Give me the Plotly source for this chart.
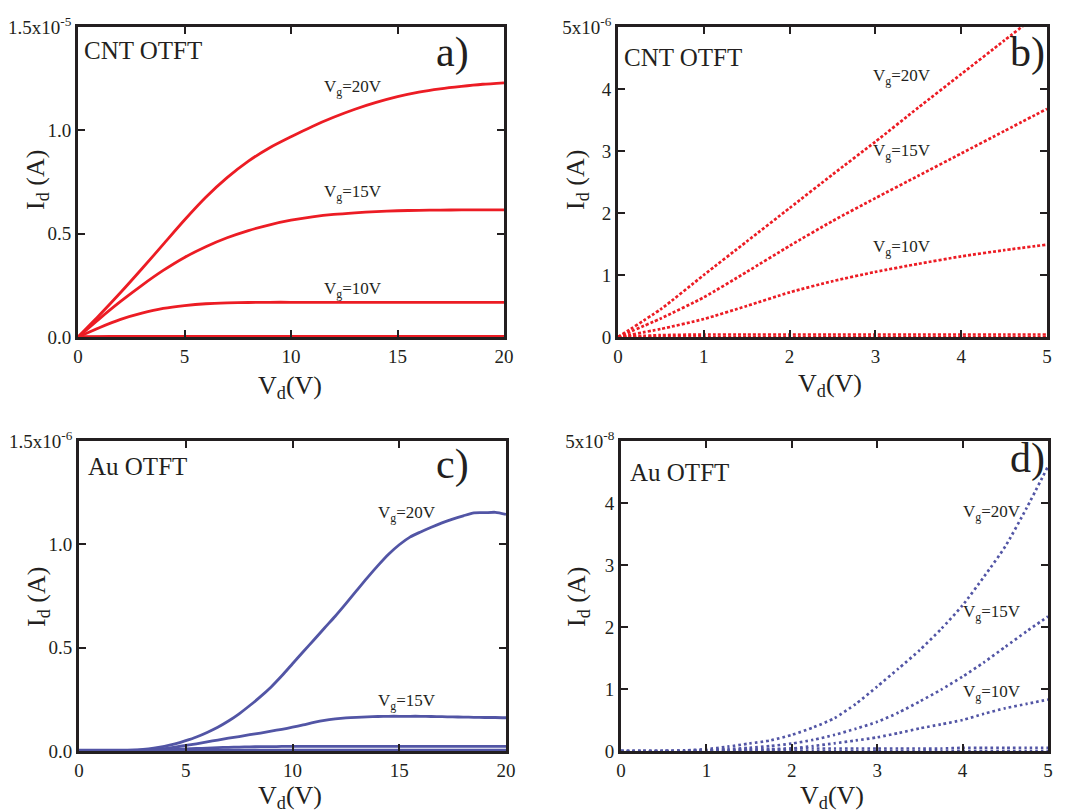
import numpy as np
import plotly.graph_objects as go

# ---------------- data ----------------
# Panel a: CNT OTFT output curves, Vd 0..20 V (Id in units of 1e-5 A)
vd_a = list(range(0, 21))
id_a_20 = [0, 0.105, 0.215, 0.33, 0.448, 0.566, 0.676, 0.771, 0.851, 0.916, 0.969,
           1.019, 1.063, 1.102, 1.135, 1.163, 1.185, 1.201, 1.213, 1.223, 1.23]
id_a_15 = [0, 0.088, 0.172, 0.25, 0.322, 0.385, 0.437, 0.48, 0.515, 0.543, 0.565,
           0.581, 0.593, 0.601, 0.607, 0.611, 0.613, 0.614, 0.615, 0.615, 0.615]
id_a_10 = [0, 0.045, 0.085, 0.115, 0.138, 0.152, 0.161, 0.165, 0.167, 0.168, 0.168,
           0.168, 0.168, 0.168, 0.168, 0.168, 0.168, 0.168, 0.168, 0.168, 0.168]
id_a_5 = [0, 0.002, 0.003, 0.003, 0.003, 0.003, 0.003, 0.003, 0.003, 0.003, 0.003,
          0.003, 0.003, 0.003, 0.003, 0.003, 0.003, 0.003, 0.003, 0.003, 0.003]
id_a_0 = [0] * 21

# Panel b: CNT OTFT low-Vd region, Vd 0..5 V (Id in units of 1e-6 A)
vd_b = [0, 0.5, 1, 1.5, 2, 2.5, 3, 3.5, 4, 4.5, 5]
id_b_20 = [0, 0.45, 1.0, 1.54, 2.08, 2.62, 3.15, 3.7, 4.24, 4.78, 5.32]
id_b_15 = [0, 0.3, 0.64, 1.05, 1.47, 1.87, 2.24, 2.6, 2.96, 3.32, 3.68]
id_b_10 = [0, 0.13, 0.29, 0.5, 0.72, 0.9, 1.05, 1.18, 1.3, 1.4, 1.49]
id_b_5 = [0, 0.03, 0.04, 0.04, 0.04, 0.04, 0.04, 0.04, 0.04, 0.04, 0.04]
id_b_0 = [0] * 11

# Panel c: Au OTFT output curves, Vd 0..20 V (Id in units of 1e-6 A)
vd_c = [i * 0.5 for i in range(41)]
id_c_20 = [0.000, 0.000, 0.001, 0.001, 0.002, 0.004, 0.008, 0.014, 0.022, 0.034,
           0.050, 0.068, 0.090, 0.115, 0.145, 0.180, 0.220, 0.263, 0.310, 0.364,
           0.422, 0.480, 0.537, 0.595, 0.652, 0.713, 0.776, 0.838, 0.897, 0.952,
           0.998, 1.035, 1.060, 1.083, 1.104, 1.122, 1.138, 1.152, 1.153, 1.155,
           1.145]
id_c_15 = [0.000, 0.000, 0.000, 0.001, 0.001, 0.002, 0.004, 0.007, 0.012, 0.019,
           0.027, 0.035, 0.044, 0.053, 0.062, 0.070, 0.079, 0.087, 0.096, 0.105,
           0.115, 0.126, 0.138, 0.148, 0.155, 0.160, 0.163, 0.165, 0.167, 0.168,
           0.168, 0.168, 0.168, 0.167, 0.166, 0.165, 0.164, 0.163, 0.162, 0.162,
           0.161]
id_c_10 = [0.000, 0.000, 0.000, 0.000, 0.000, 0.001, 0.002, 0.004, 0.006, 0.008,
           0.010, 0.012, 0.014, 0.016, 0.018, 0.019, 0.020, 0.021, 0.021, 0.022,
           0.022, 0.022, 0.022, 0.022, 0.022, 0.022, 0.022, 0.022, 0.022, 0.022,
           0.022, 0.022, 0.022, 0.022, 0.022, 0.022, 0.022, 0.022, 0.022, 0.022,
           0.022]
id_c_5 = [0.004] * 41
id_c_0 = [0.0] * 41

# Panel d: Au OTFT low-Vd region, Vd 0..5 V (Id in units of 1e-8 A)
vd_d = [0, 0.25, 0.5, 0.75, 1, 1.25, 1.5, 1.75, 2, 2.25, 2.5, 2.75, 3, 3.25, 3.5,
        3.75, 4, 4.25, 4.5, 4.75, 5]
id_d_20 = [0, 0, 0, 0.01, 0.03, 0.07, 0.12, 0.17, 0.26, 0.38, 0.53, 0.76, 1.04,
           1.33, 1.63, 1.97, 2.35, 2.81, 3.3, 3.92, 4.59]
id_d_15 = [0, 0, 0, 0, 0.01, 0.03, 0.05, 0.08, 0.12, 0.18, 0.26, 0.36, 0.47,
           0.62, 0.8, 0.99, 1.2, 1.43, 1.68, 1.93, 2.17]
id_d_10 = [0, 0, 0, 0, 0, 0.005, 0.01, 0.02, 0.04, 0.08, 0.124, 0.17, 0.22,
           0.29, 0.366, 0.43, 0.5, 0.6, 0.69, 0.76, 0.83]
id_d_5 = [0, 0, 0, 0, 0.01, 0.02, 0.03, 0.03, 0.04, 0.04, 0.04, 0.04, 0.04,
          0.04, 0.04, 0.04, 0.05, 0.05, 0.05, 0.05, 0.05]
id_d_0 = [0] * 21

# ---------------- style ----------------
RED = "#ec1c24"
BLUE = "#5255a5"
INK = "#231f20"
SERIF = "Liberation Serif"
W, H = 1067, 810


def px(x):
    return x / W


def py(y):
    return 1 - y / H


fig = go.Figure()

panels = [
    # name, x-domain px, y-domain px (top, bottom), x range, y range, scale
    ("a", (78, 504), (27, 337), 20, 1.5, 1e-5),
    ("b", (618, 1047), (27, 337), 5, 5, 1e-6),
    ("c", (79, 506), (441, 751), 20, 1.5, 1e-6),
    ("d", (621, 1048), (441, 751), 5, 5, 1e-8),
]

axis_ids = {"a": ("x", "y"), "b": ("x2", "y2"), "c": ("x3", "y3"), "d": ("x4", "y4")}


def add_solid(panel, x, y, scale, color):
    xa, ya = axis_ids[panel]
    fig.add_trace(go.Scatter(
        x=x, y=np.array(y) * scale, mode="lines", xaxis=xa, yaxis=ya,
        line=dict(color=color, width=2.8, shape="spline", smoothing=0.7),
        showlegend=False, hoverinfo="skip"))


def add_dotted(panel, x, y, scale, color, dash):
    xa, ya = axis_ids[panel]
    fig.add_trace(go.Scatter(
        x=x, y=np.array(y) * scale, mode="lines", xaxis=xa, yaxis=ya,
        line=dict(color=color, width=2.7, dash=dash, shape="spline", smoothing=0.6),
        showlegend=False, hoverinfo="skip"))


for series in (id_a_20, id_a_15, id_a_10, id_a_5, id_a_0):
    add_solid("a", vd_a, series, 1e-5, RED)
for series in (id_b_20, id_b_15, id_b_10, id_b_5, id_b_0):
    add_dotted("b", vd_b, series, 1e-6, RED, "3px,2px")
for series in (id_c_20, id_c_15, id_c_10, id_c_5, id_c_0):
    add_solid("c", vd_c, series, 1e-6, BLUE)
for series in (id_d_20, id_d_15, id_d_10, id_d_5, id_d_0):
    add_dotted("d", vd_d, series, 1e-8, BLUE, "2.6px,3px")

ytick_text = {
    "a": (["0.0", "0.5", "1.0", "1.5x10<sup>-5</sup>"], [0, 0.5, 1.0, 1.5]),
    "b": (["0", "1", "2", "3", "4", "5x10<sup>-6</sup>"], [0, 1, 2, 3, 4, 5]),
    "c": (["0.0", "0.5", "1.0", "1.5x10<sup>-6</sup>"], [0, 0.5, 1.0, 1.5]),
    "d": (["0", "1", "2", "3", "4", "5x10<sup>-8</sup>"], [0, 1, 2, 3, 4, 5]),
}

layout = dict(
    width=W, height=H,
    margin=dict(l=0, r=0, t=0, b=0, autoexpand=False),
    paper_bgcolor="white", plot_bgcolor="white",
    font=dict(family=SERIF, color=INK, size=18),
)

common = dict(
    showline=True, linecolor=INK, linewidth=2.8, mirror="ticks",
    ticks="inside", ticklen=7, tickwidth=2.2, tickcolor=INK,
    showgrid=False, zeroline=False, automargin=False,
    tickfont=dict(family=SERIF, size=19, color=INK),
)

for i, (name, (x0, x1), (yt, yb), xmax, ymax, scale) in enumerate(panels):
    suffix = "" if i == 0 else str(i + 1)
    xstep = 5 if xmax == 20 else 1
    texts, vals = ytick_text[name]
    layout["xaxis" + suffix] = dict(
        common, domain=[px(x0), px(x1)], range=[0, xmax],
        anchor="y" + suffix, tickvals=list(range(0, xmax + 1, xstep)))
    layout["yaxis" + suffix] = dict(
        common, domain=[py(yb), py(yt)], range=[0, ymax * scale],
        anchor="x" + suffix, tickvals=[v * scale for v in vals], ticktext=texts)

fig.update_layout(**layout)


def note(x, y, text, size, xanchor="center", **kw):
    fig.add_annotation(x=px(x), y=py(y), xref="paper", yref="paper", text=text,
                       showarrow=False, xanchor=xanchor, yanchor="middle",
                       font=dict(family=SERIF, size=size, color=INK), **kw)


# Device labels and panel letters
note(82, 50, "CNT OTFT", 25, xanchor="left")
note(622, 57, "CNT OTFT", 25, xanchor="left")
note(86, 466, "Au OTFT", 25, xanchor="left")
note(628, 472, "Au OTFT", 25, xanchor="left")
note(452, 52, "a)", 42)
note(1027, 52, "b)", 42)
note(452, 464, "c)", 42)
note(1027, 458, "d)", 42)

# Gate-voltage labels
note(353, 88, "V<sub>g</sub>=20V", 17)
note(353, 193, "V<sub>g</sub>=15V", 17)
note(353, 290, "V<sub>g</sub>=10V", 17)
note(902, 77, "V<sub>g</sub>=20V", 17)
note(902, 152, "V<sub>g</sub>=15V", 17)
note(902, 248, "V<sub>g</sub>=10V", 17)
note(407, 514, "V<sub>g</sub>=20V", 17)
note(407, 702, "V<sub>g</sub>=15V", 17)
note(992, 513, "V<sub>g</sub>=20V", 17)
note(992, 613, "V<sub>g</sub>=15V", 17)
note(992, 693, "V<sub>g</sub>=10V", 17)

# Axis titles
for (cx, cy) in ((290, 387), (830, 385), (290, 797), (832, 797)):
    note(cx, cy, "V<sub>d</sub>(V)", 26)
for (cx, cy) in ((37, 180), (577, 180), (38, 597), (578, 597)):
    note(cx, cy, "I<sub>d</sub> (A)", 26, textangle=-90)

fig.write_html("out.html")
